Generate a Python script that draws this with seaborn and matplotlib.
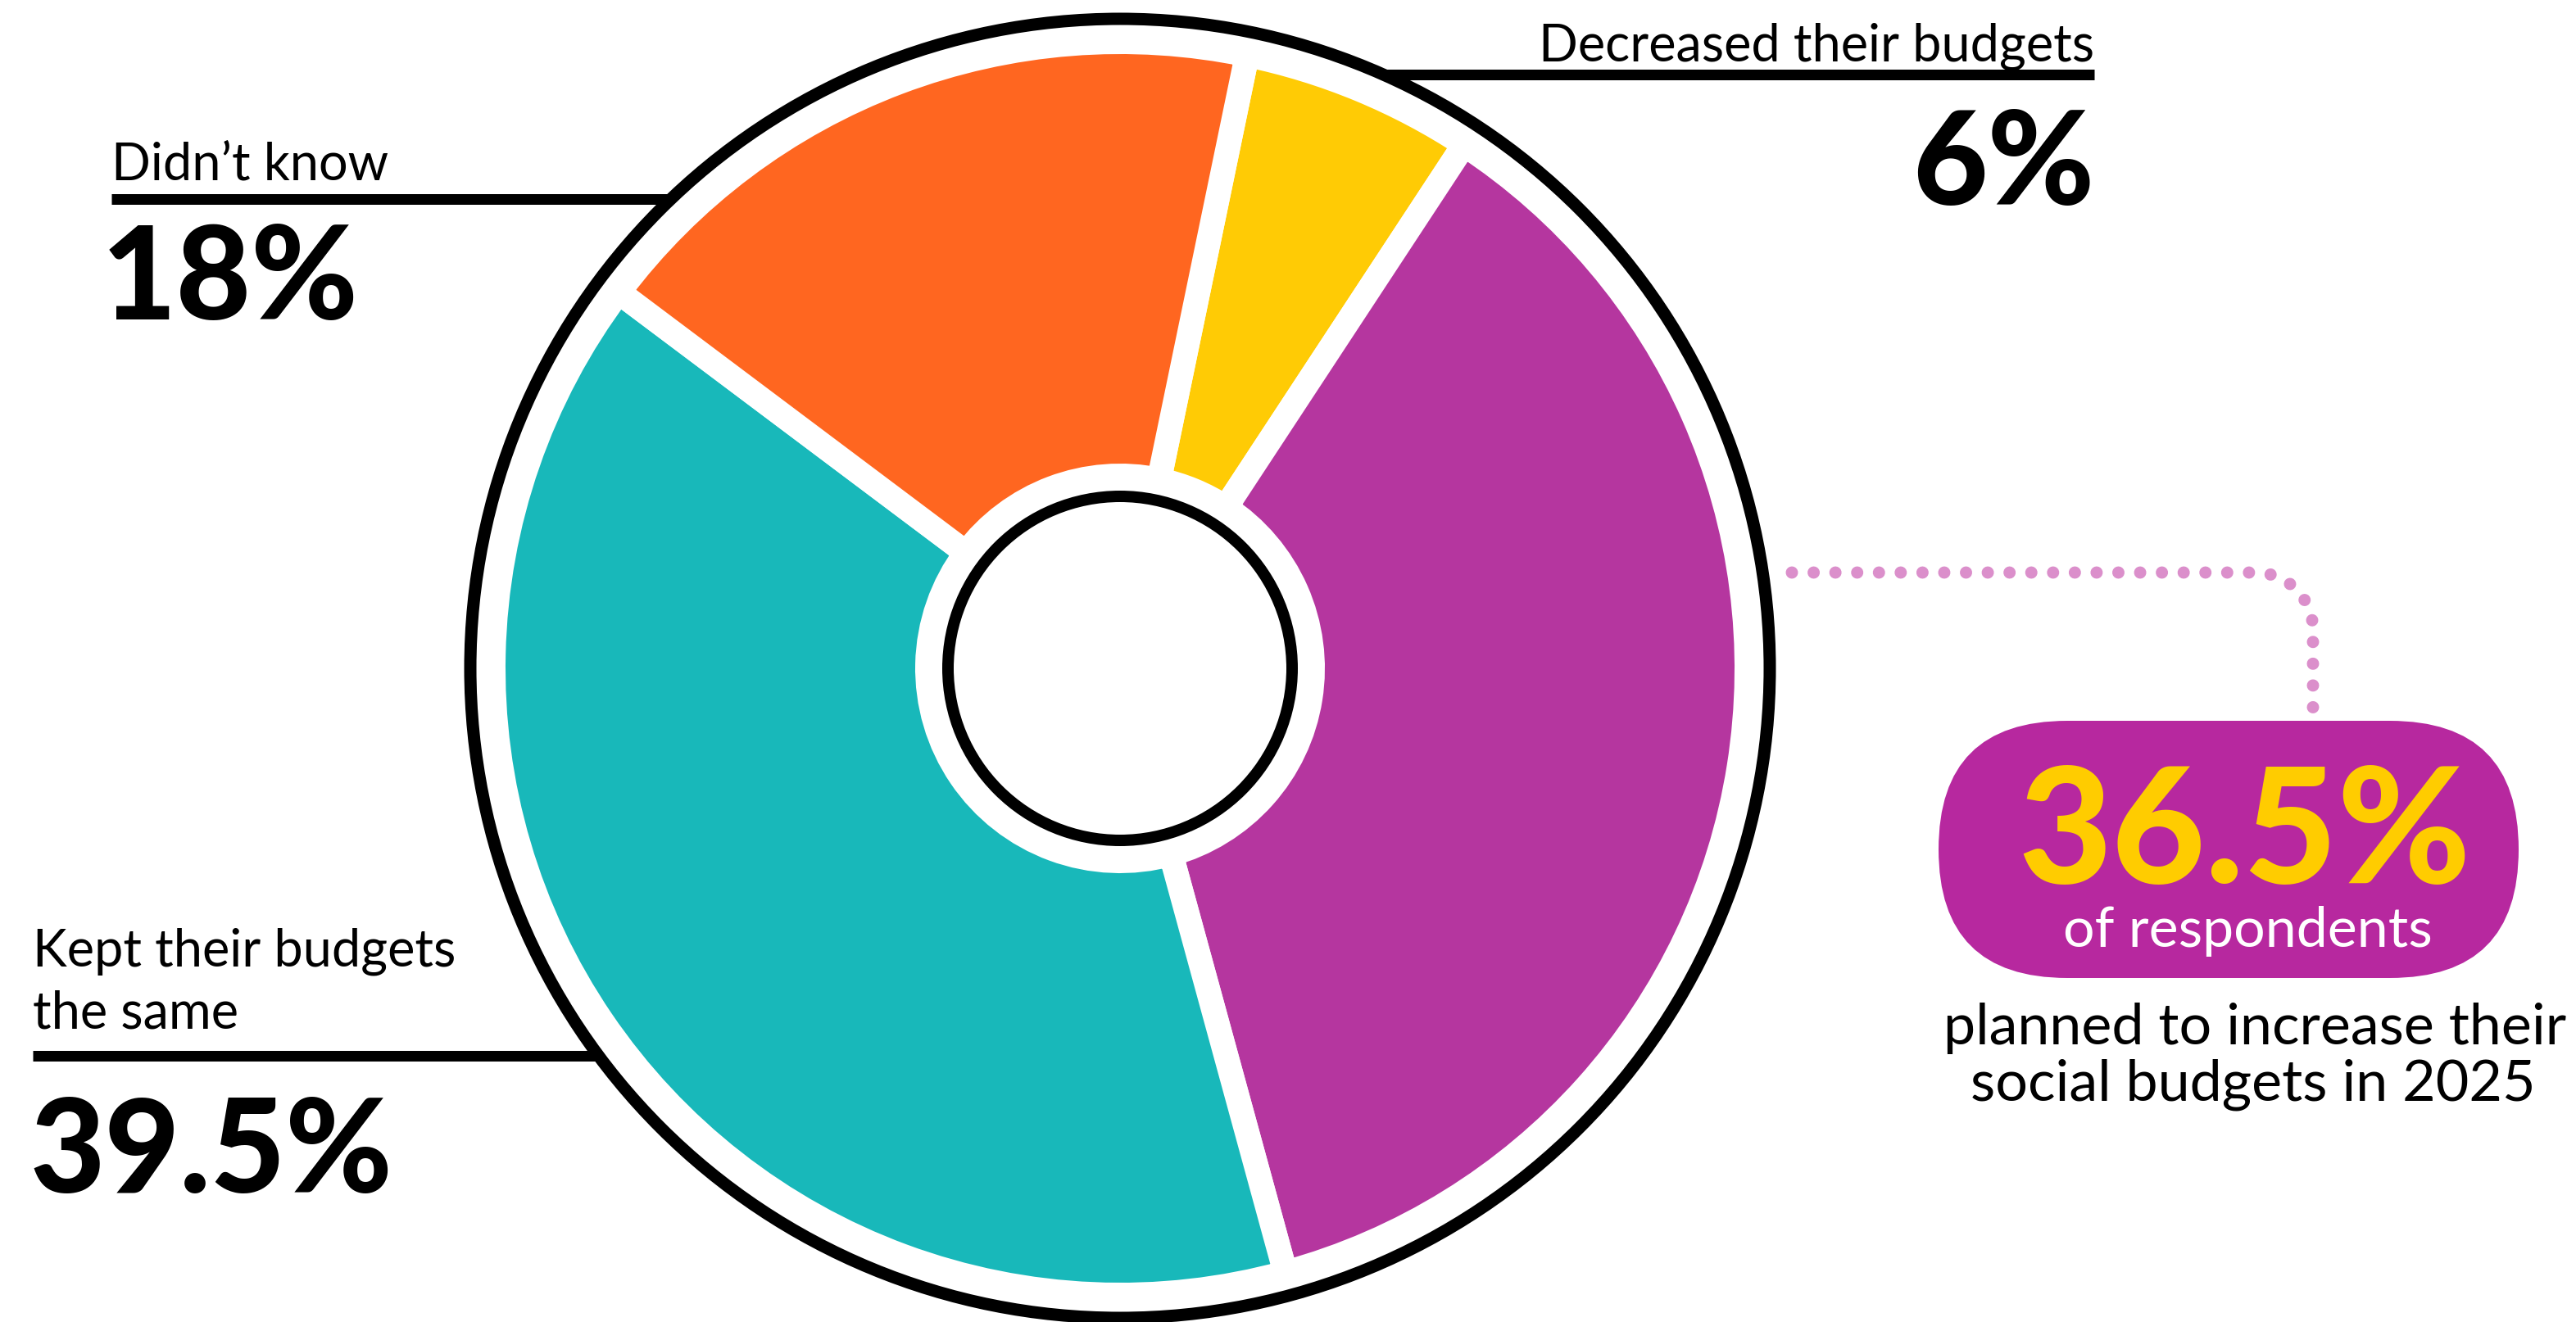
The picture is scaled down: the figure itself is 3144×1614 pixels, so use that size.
import matplotlib
matplotlib.use("Agg")
import matplotlib.pyplot as plt
import seaborn as sns
import numpy as np
from matplotlib.patches import Circle, FancyBboxPatch

# ---------------- data ----------------
categories = ["Decreased their budgets", "Increased their budgets",
              "Kept their budgets the same", "Didn’t know"]
values = [6, 36.5, 39.5, 18]
value_labels = ["6%", "36.5%", "39.5%", "18%"]
colors = ["#FFCB05", "#B5369F", "#18B8BA", "#FF6620"]
callout_value = "36.5%"
callout_sub = "of respondents"
callout_text = ["planned to increase their", "social budgets in 2025"]

# ---------------- style ----------------
sns.set_theme(style="white")
plt.rcParams['font.family'] = ['Lato', 'DejaVu Sans']
palette = sns.color_palette(colors)

W, H = 3144, 1615
PT = 0.72  # points per pixel at dpi 100
fig = plt.figure(figsize=(W / 100, H / 100), dpi=100)
ax = fig.add_axes([0, 0, 1, 1])

def Y(y):
    return H - y

cx, cy = 1367, Y(817)
gap = 30
r_out, r_in = 750, 250
wedges, _ = ax.pie(values, colors=palette, startangle=78.3, counterclock=False,
                   center=(cx, cy), radius=r_out + gap / 2,
                   wedgeprops=dict(width=r_out - r_in + gap, edgecolor="white",
                                   linewidth=gap * PT))

R_ring = 793
ax.add_patch(Circle((cx, cy), R_ring, fill=False, ec="black", lw=15 * PT, zorder=3))
ax.add_patch(Circle((cx, cy), 210, fc="white", ec="black", lw=14 * PT, zorder=3))

def ring_x(y, side):
    dy = cy - Y(y)
    return cx + side * np.sqrt(R_ring ** 2 - dy ** 2)

line_lw = 13 * PT
small = 63 * PT
big = 158 * PT

# Didn't know
ax.plot([136, ring_x(244, -1)], [Y(244)] * 2, color="black", lw=line_lw, solid_capstyle="butt")
ax.text(136, Y(220), categories[3], fontsize=small, va="baseline", ha="left", color="black")
ax.text(124, Y(390), value_labels[3], fontsize=big, weight="black", va="baseline", ha="left", color="black")

# Decreased
ax.plot([ring_x(92, 1), 2556], [Y(92)] * 2, color="black", lw=line_lw, solid_capstyle="butt")
ax.text(2556, Y(74), categories[0], fontsize=small, va="baseline", ha="right", color="black")
ax.text(2556, Y(250), value_labels[0], fontsize=big, weight="black", va="baseline", ha="right", color="black")

# Kept the same
ax.plot([40, ring_x(1290, -1)], [Y(1290)] * 2, color="black", lw=line_lw, solid_capstyle="butt")
ax.text(40, Y(1180), "Kept their budgets", fontsize=small, va="baseline", ha="left", color="black")
ax.text(40, Y(1256), "the same", fontsize=small, va="baseline", ha="left", color="black")
ax.text(36, Y(1456), value_labels[2], fontsize=big, weight="black", va="baseline", ha="left", color="black")

# dotted leader
hx0, hx1, vy = 2187, 2753, 700
vx, rc = 2823, 70
t = np.linspace(-np.pi / 2, 0, 30)
arc_x = (vx - rc) + rc * np.cos(t)
arc_y = (vy + rc) + rc * np.sin(t)
lx = np.concatenate([[hx0, hx1], arc_x, [vx, vx]])
ly = np.concatenate([[vy, vy], arc_y, [vy + rc, 880]])
ax.plot(lx, [Y(v) for v in ly], color="#DB8FCB", lw=15 * PT,
        dashes=(0.001, 1.77), dash_capstyle="round", zorder=2)

# callout bubble
bx, by, bw, bh = 2366, 881, 708, 314
ax.add_patch(FancyBboxPatch((bx, Y(by + bh)), bw, bh,
                            boxstyle=f"round,pad=0,rounding_size={bh/2}",
                            fc="#B7289F", ec="none", zorder=4))
ax.text(2740, Y(1078), callout_value, fontsize=197 * PT, weight="black", color="#FFCC00",
        ha="center", va="baseline", zorder=5)
ax.text(2743, Y(1156), callout_sub, fontsize=68 * PT, color="white",
        ha="center", va="baseline", zorder=5)
ax.text(2752, Y(1275), callout_text[0], fontsize=70 * PT, color="black",
        ha="center", va="baseline", zorder=5)
ax.text(2750, Y(1344), callout_text[1], fontsize=70 * PT, color="black",
        ha="center", va="baseline", zorder=5)

ax.set_xlim(0, W)
ax.set_ylim(0, H)
ax.set_aspect("equal")
ax.axis("off")
fig.savefig("out.png", dpi=100, facecolor="white")
